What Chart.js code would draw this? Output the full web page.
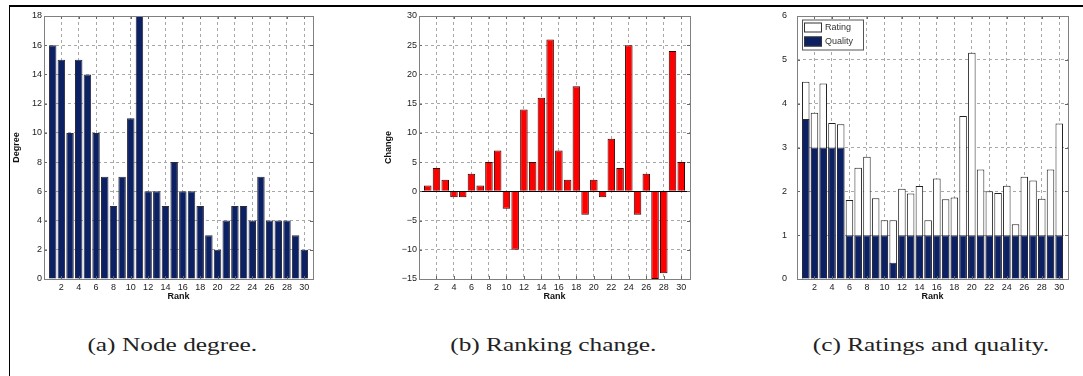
<!DOCTYPE html>
<html>
<head>
<meta charset="utf-8">
<script src="https://cdn.jsdelivr.net/npm/chart.js@4.4.1/dist/chart.umd.min.js"></script>
<style>
  body { margin: 0; background: #fff; width: 1083px; height: 376px; overflow: hidden; position: relative; }
  .rule-top { position: absolute; left: 9px; top: 5px; width: 1074px; height: 2px; background: #000; }
  .rule-left { position: absolute; left: 9px; top: 5px; width: 1px; height: 371px; background: #000; }
  canvas { position: absolute; top: 0; }
  .cap { position: absolute; top: 334px; width: 300px; text-align: center; font-family: "Liberation Serif", "DejaVu Serif", serif; font-size: 19.5px; color: #222; }
  .cap span { display: inline-block; transform: scaleX(1.3); white-space: nowrap; }
</style>
</head>
<body>
<div class="rule-top"></div>
<div class="rule-left"></div>
<canvas id="deg" width="330" height="305" style="left:0px"></canvas>
<canvas id="chg" width="340" height="305" style="left:360px"></canvas>
<canvas id="rat" width="363" height="305" style="left:720px"></canvas>
<div class="cap" style="left:22px"><span>(a) Node degree.</span></div>
<div class="cap" style="left:403px"><span>(b) Ranking change.</span></div>
<div class="cap" style="left:781px"><span>(c) Ratings and quality.</span></div>
<script>
const ranks = [1,2,3,4,5,6,7,8,9,10,11,12,13,14,15,16,17,18,19,20,21,22,23,24,25,26,27,28,29,30];
const degree = [16,15,10,15,14,10,7,5,7,11,18,6,6,5,8,6,6,5,3,2,4,5,5,4,7,4,4,4,3,2];
const change = [1,4,2,-1,-1,3,1,5,7,-3,-10,14,5,16,26,7,2,18,-4,2,-1,9,4,25,-4,3,-15,-14,24,5];
const rating = [4.50,3.79,4.46,3.56,3.53,1.80,2.54,2.79,1.84,1.34,1.34,2.06,1.95,2.12,1.34,2.29,1.82,1.86,3.72,5.16,2.50,2.00,1.96,2.13,1.25,2.33,2.25,1.83,2.50,3.55];
const quality = [3.65,3,3,3,3,1,1,1,1,1,0.37,1,1,1,1,1,1,1,1,1,1,1,1,1,1,1,1,1,1,1];

const rankTicks = [2,4,6,8,10,12,14,16,18,20,22,24,26,28,30];
const degreeTicks = [0,2,4,6,8,10,12,14,16,18];
const changeTicks = [-15,-10,-5,0,5,10,15,20,25,30];
const ratingTicks = [0,1,2,3,4,5,6];

const NAVY = '#0c2163';
const tickFont = { family: 'Liberation Sans', size: 9 };
const titleFont = { family: 'Liberation Sans', size: 9, weight: 'bold' };

const pts = (vals) => ranks.map((r, i) => ({ x: r, y: vals[i] }));

// matlab-like box around the axes, inner tick marks, optional zero baseline
const axesBox = {
  id: 'axesBox',
  afterDatasetsDraw(chart, args, opts) {
    const { ctx, chartArea: a, scales } = chart;
    ctx.save();
    ctx.lineWidth = 1;
    if (opts.zero) {
      const y0 = Math.round(scales.y.getPixelForValue(0)) + 0.5;
      ctx.strokeStyle = '#000';
      ctx.beginPath(); ctx.moveTo(a.left, y0); ctx.lineTo(a.right, y0); ctx.stroke();
    }
    ctx.strokeStyle = '#666';
    ctx.beginPath();
    scales.x.ticks.forEach(t => {
      const x = Math.round(scales.x.getPixelForValue(t.value)) + 0.5;
      ctx.moveTo(x, a.bottom); ctx.lineTo(x, a.bottom - 3);
      ctx.moveTo(x, a.top); ctx.lineTo(x, a.top + 3);
    });
    scales.y.ticks.forEach(t => {
      const y = Math.round(scales.y.getPixelForValue(t.value)) + 0.5;
      ctx.moveTo(a.left, y); ctx.lineTo(a.left + 3, y);
      ctx.moveTo(a.right, y); ctx.lineTo(a.right - 3, y);
    });
    ctx.stroke();
    ctx.strokeStyle = '#808080';
    ctx.strokeRect(Math.round(a.left) + 0.5, Math.round(a.top) + 0.5, Math.round(a.width), Math.round(a.height));
    ctx.restore();
  }
};

// small boxed legend in the top-left corner of the plot
const boxLegend = {
  id: 'boxLegend',
  afterDatasetsDraw(chart, args, opts) {
    if (!opts.show) return;
    const { ctx, chartArea: a } = chart;
    const x = a.left + 5, y = a.top + 3.5, w = 61, h = 30;
    ctx.save();
    ctx.fillStyle = '#fff';
    ctx.fillRect(x, y, w, h);
    ctx.strokeStyle = '#555';
    ctx.lineWidth = 1;
    ctx.strokeRect(x + 0.5, y + 0.5, w, h);
    ctx.font = '9px "Liberation Sans"';
    ctx.textBaseline = 'middle';
    chart.data.datasets.forEach((ds, i) => {
      const ry = y + 3 + i * 14;
      ctx.fillStyle = ds.backgroundColor;
      ctx.fillRect(x + 2, ry, 18, 10);
      ctx.strokeStyle = '#333';
      ctx.strokeRect(x + 2.5, ry + 0.5, 17, 9);
      ctx.fillStyle = '#333';
      ctx.fillText(ds.label, x + 23, ry + 5.5);
    });
    ctx.restore();
  }
};

function xAxis() {
  return {
    type: 'linear', min: 0, max: 31, offset: false,
    afterBuildTicks: s => { s.ticks = rankTicks.map(v => ({ value: v })); },
    afterFit: s => { s.height = 26; },
    ticks: { font: tickFont, color: '#222', padding: 3.5, autoSkip: false, maxRotation: 0 },
    grid: { color: '#a8a8a8', drawTicks: false, offset: false },
    border: { display: false, dash: [3, 3] },
    title: { display: true, text: 'Rank', font: titleFont, color: '#111', padding: { top: 0, bottom: 2.6 } }
  };
}

function yAxis(min, max, tickList, width, pad, title, titlePad) {
  return {
    min: min, max: max,
    afterBuildTicks: s => { s.ticks = tickList.map(v => ({ value: v })); },
    afterFit: s => { s.width = width; },
    ticks: { font: tickFont, color: '#222', padding: pad,
      callback: v => (v < 0 ? '\u2212' + Math.abs(v) : String(v)) },
    grid: { color: '#a8a8a8', drawTicks: false },
    border: { display: false, dash: [3, 3] },
    title: { display: !!title, text: title || '', font: titleFont, color: '#111', padding: { top: titlePad, bottom: 0 } }
  };
}

function baseOptions(padRight, y, extra) {
  return {
    responsive: false,
    animation: false,
    devicePixelRatio: 1,
    layout: { padding: { top: 16, right: padRight, left: 0, bottom: 0 } },
    scales: { x: xAxis(), y: y },
    plugins: Object.assign({ legend: { display: false }, tooltip: { enabled: false } }, extra)
  };
}

new Chart(document.getElementById('deg'), {
  type: 'bar',
  data: { datasets: [{ label: 'Degree', data: pts(degree), backgroundColor: NAVY, borderColor: '#2a2a3a', borderWidth: 1,
    barPercentage: 0.86, categoryPercentage: 1 }] },
  options: baseOptions(17, yAxis(0, 18, degreeTicks, 44, 2, 'Degree', 11.6), { axesBox: {} }),
  plugins: [axesBox]
});

new Chart(document.getElementById('chg'), {
  type: 'bar',
  data: { datasets: [{ label: 'Change', data: pts(change), backgroundColor: '#ff0000', borderColor: '#3a0000', borderWidth: 1,
    barPercentage: 0.86, categoryPercentage: 1 }] },
  options: baseOptions(10, yAxis(-15, 30, changeTicks, 59, 2, 'Change', 23.6), { axesBox: { zero: true } }),
  plugins: [axesBox]
});

new Chart(document.getElementById('rat'), {
  type: 'bar',
  data: { datasets: [
    { label: 'Rating', data: pts(rating), backgroundColor: '#ffffff', borderColor: '#222', borderWidth: 1,
      barPercentage: 0.86, categoryPercentage: 1, grouped: false, order: 1 },
    { label: 'Quality', data: pts(quality), backgroundColor: NAVY, borderColor: '#2a2a3a', borderWidth: 1,
      barPercentage: 0.86, categoryPercentage: 1, grouped: false, order: 0 }
  ] },
  options: baseOptions(15, yAxis(0, 6, ratingTicks, 77, 10, null, 0), { axesBox: {}, boxLegend: { show: true } }),
  plugins: [axesBox, boxLegend]
});
</script>
</body>
</html>
